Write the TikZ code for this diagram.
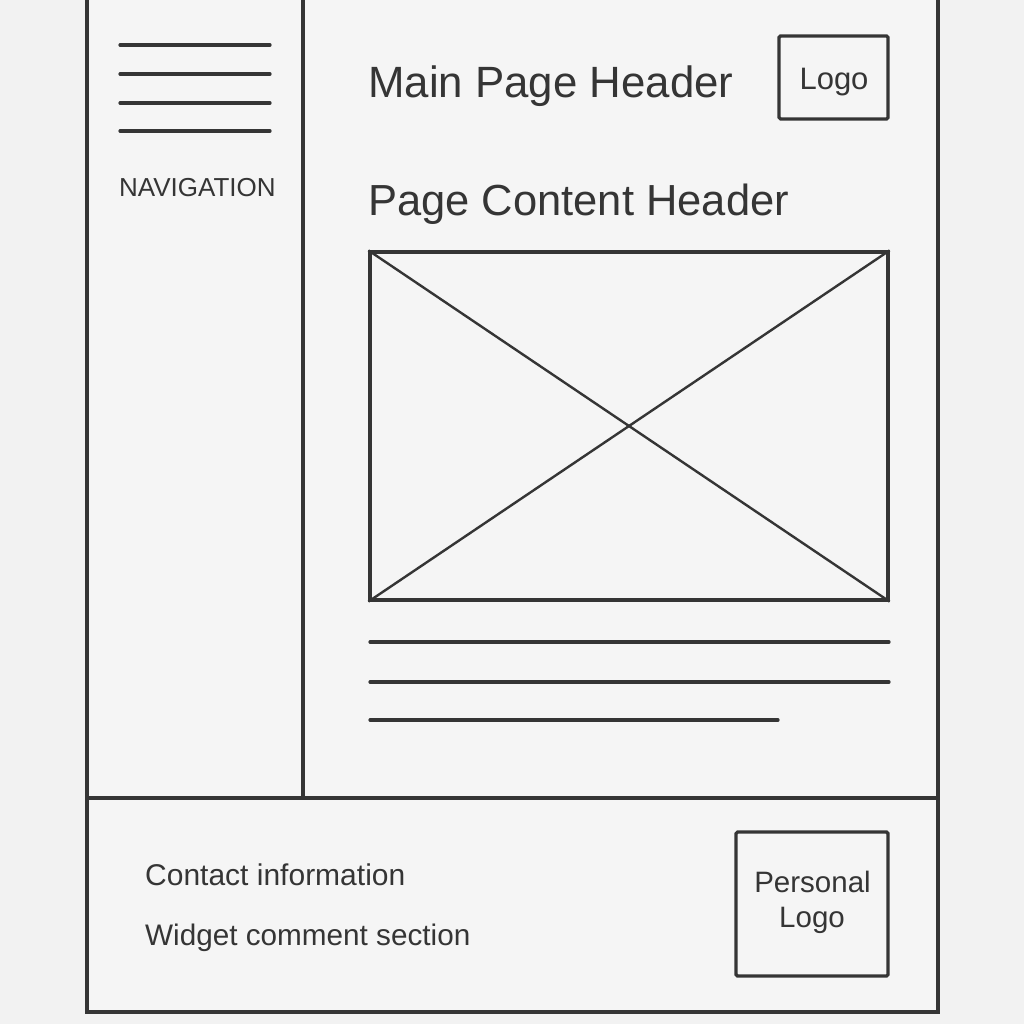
\documentclass[tikz,border=0pt]{standalone}
\usepackage{fontspec}
\setmainfont{Liberation Sans}
\definecolor{ink}{HTML}{353535}
\definecolor{paper}{HTML}{F2F2F2}
\definecolor{panel}{HTML}{F5F5F5}
\begin{document}
\begin{tikzpicture}[x=1pt,y=-1pt,
  wire/.style={draw=ink,line width=3.2pt},
  rule/.style={draw=ink,line width=3.2pt,line cap=round},
  box/.style={draw=ink,line width=3.2pt,rounded corners=1.5pt,inner sep=0pt},
  label/.style={text=ink,inner sep=0pt,anchor=base west},
  clabel/.style={text=ink,inner sep=0pt,anchor=base},
]
\useasboundingbox (0,0) rectangle (1024,1024);
\fill[paper] (0,0) rectangle (1024,1024);
\fill[panel] (87,0) rectangle (938,1012);

% page frame, open at the top
\draw[wire] (87,-5) -- (87,1012) -- (938,1012) -- (938,-5);
% sidebar and footer dividers
\coordinate (sbtop) at (303,-5);
\coordinate (sbbot) at (303,798);
\coordinate (ftl) at (87,798);
\coordinate (ftr) at (938,798);
\draw[wire] (sbtop) -- (sbbot);
\draw[wire] (ftl) -- (ftr);

% navigation menu lines
\foreach \yy [count=\i] in {45,74,103,131}{
  \coordinate (n\i a) at (120,\yy);
  \coordinate (n\i b) at (270,\yy);
  \draw[rule] (n\i a) -- (n\i b);
}
\node[label,font=\fontsize{26}{30}\selectfont] (nav) at (119,197) {NAVIGATION};

% headers
\node[label,font=\fontsize{43.8}{50}\selectfont] (mainhdr) at (368,98) {Main Page Header};
\node[box,minimum width=109pt,minimum height=83pt] (logo) at (833.5,77.5) {};
\node[clabel,font=\fontsize{31}{36}\selectfont] (logotxt) at (834,90) {Logo};
\node[label,font=\fontsize{43.5}{50}\selectfont] (conthdr) at (368,215) {Page Content Header};

% image placeholder
\node[draw=ink,line width=3.2pt,minimum width=518pt,minimum height=348pt,inner sep=0pt] (img) at (629,426) {};
\draw[ink,line width=2.4pt] (img.north west) -- (img.south east);
\draw[ink,line width=2.4pt] (img.south west) -- (img.north east);

% text placeholder lines
\coordinate (t1a) at (370,642); \coordinate (t1b) at (889,642);
\coordinate (t2a) at (370,682); \coordinate (t2b) at (889,682);
\coordinate (t3a) at (370,720); \coordinate (t3b) at (778,720);
\draw[rule] (t1a) -- (t1b);
\draw[rule] (t2a) -- (t2b);
\draw[rule] (t3a) -- (t3b);

% footer
\node[label,font=\fontsize{30}{34}\selectfont] (contact) at (145,885) {Contact information};
\node[label,font=\fontsize{29.7}{34}\selectfont] (widget) at (145,945) {Widget comment section};
\node[box,minimum width=152pt,minimum height=144pt] (plogo) at (812,904) {};
\node[clabel,font=\fontsize{29.5}{34}\selectfont] (plogo1) at (812.5,892) {Personal};
\node[clabel,font=\fontsize{29.5}{34}\selectfont] (plogo2) at (812,927) {Logo};
\end{tikzpicture}
\end{document}
